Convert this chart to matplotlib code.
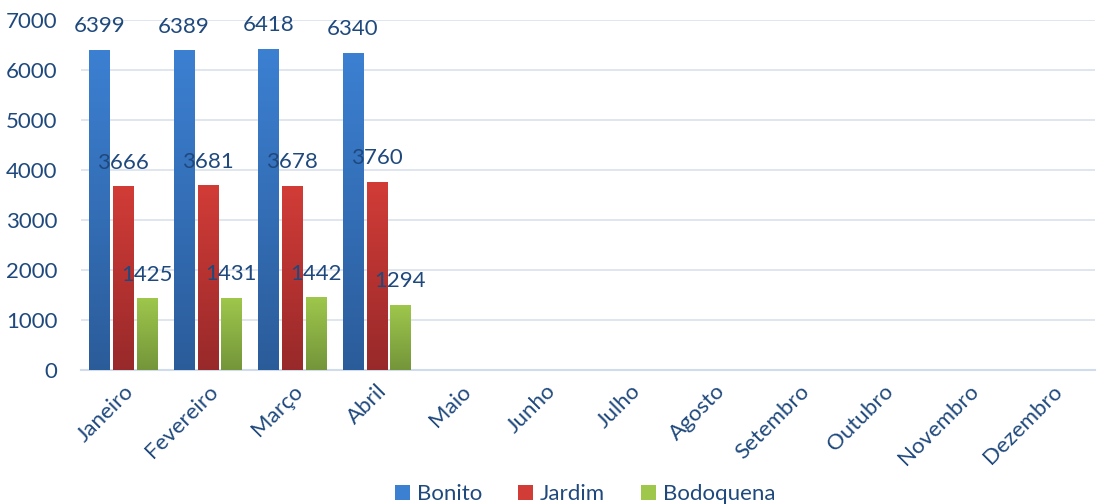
import numpy as np
import matplotlib.pyplot as plt
from matplotlib.colors import LinearSegmentedColormap

meses = ["Janeiro", "Fevereiro", "Março", "Abril", "Maio", "Junho", "Julho",
         "Agosto", "Setembro", "Outubro", "Novembro", "Dezembro"]
bonito = [6399, 6389, 6418, 6340]
jardim = [3666, 3681, 3678, 3760]
bodoquena = [1425, 1431, 1442, 1294]

txt = "#1F497D"
series = [
    ("Bonito", bonito, "#2B5C9A", "#3C80D2", -0.28),
    ("Jardim", jardim, "#98292A", "#D23C37", 0.0),
    ("Bodoquena", bodoquena, "#74953A", "#9EC74C", 0.28),
]

plt.rcParams['font.family'] = ['Lato', 'DejaVu Sans']

fig = plt.figure(figsize=(10.98, 5.04), dpi=100)
ax = fig.add_axes([0.0738, 0.2659, 0.9232, 0.6944])

x = np.arange(len(meses))
grad = np.linspace(1, 0, 256).reshape(-1, 1)
handles = []
for name, vals, c_bot, c_top, off in series:
    xs = x[:len(vals)] + off
    bars = ax.bar(xs, vals, width=0.24, color=c_top, zorder=2, label=name)
    handles.append(bars)
    cmap = LinearSegmentedColormap.from_list(name, [c_bot, c_top])
    for b, v in zip(bars, vals):
        x0 = b.get_x()
        w = b.get_width()
        ax.imshow(grad, extent=[x0, x0 + w, 0, v], cmap=cmap, aspect='auto',
                  zorder=3, vmin=0, vmax=1)
        ax.annotate(str(v), (x0 + w / 2, v), xytext=(0, 13),
                    textcoords='offset points', ha='center', va='baseline',
                    fontsize=16, color=txt, zorder=4)

ax.set_xlim(-0.5, len(meses) - 0.5)
ax.set_ylim(0, 7000)
ax.set_yticks(range(0, 7001, 1000))
ax.set_xticks(x)
ax.set_xticklabels(meses, rotation=45, ha='right', rotation_mode='anchor')
ax.tick_params(axis='both', length=0, labelsize=16, labelcolor=txt)
ax.tick_params(axis='y', pad=17)
ax.tick_params(axis='x', pad=8)
ax.grid(axis='y', color="#D9E2EE", linewidth=1.2, zorder=0)
for s in ['top', 'right', 'left']:
    ax.spines[s].set_visible(False)
ax.spines['bottom'].set_color("#D0DCEC")
ax.spines['bottom'].set_linewidth(1.5)

fig.legend(handles=handles, loc='lower center', bbox_to_anchor=(0.533, -0.04),
           ncol=3, frameon=False, fontsize=16, labelcolor=txt,
           handlelength=0.7, handleheight=0.7, handletextpad=0.3,
           columnspacing=1.6)

fig.savefig("out.png", dpi=100)
